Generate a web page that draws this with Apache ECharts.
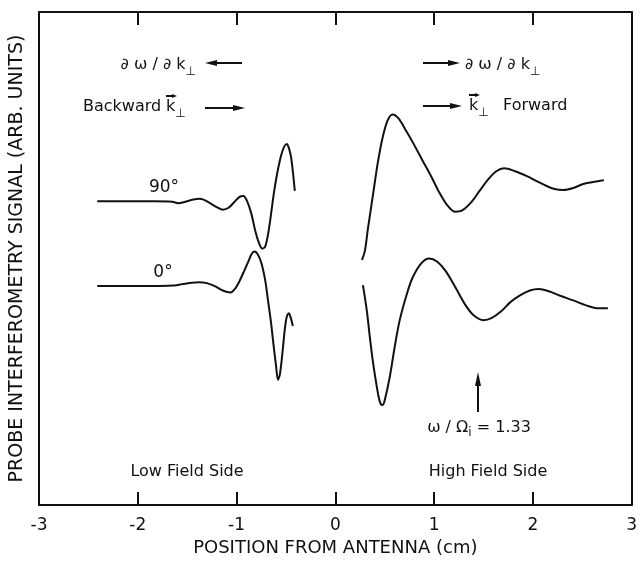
<!DOCTYPE html>
<html>
<head>
<meta charset="utf-8">
<script src="https://cdn.jsdelivr.net/npm/echarts@6/dist/echarts.min.js"></script>
<style>
  html, body { margin: 0; padding: 0; background: #fff; }
  #chart { width: 640px; height: 562px; }
</style>
</head>
<body>
<div id="chart"></div>
<script>
  // x: position from antenna (cm), y: signal (arb. units, 0-100)
  const xTicks = [-3, -2, -1, 0, 1, 2, 3]
  const low90 = [
    [-2.41, 61.6], [-2.14, 61.6], [-1.84, 61.6], [-1.65, 61.5], [-1.59, 61.2], [-1.52, 61.5],
    [-1.45, 61.9], [-1.37, 62.1], [-1.29, 61.5], [-1.21, 60.5], [-1.14, 59.9], [-1.08, 60.3],
    [-1.02, 61.5], [-0.97, 62.5], [-0.93, 62.7], [-0.89, 61.5], [-0.85, 59.1], [-0.81, 55.6],
    [-0.77, 53.0], [-0.74, 52.0], [-0.71, 52.4], [-0.68, 55.0], [-0.65, 59.1], [-0.62, 63.5],
    [-0.59, 67.1], [-0.55, 70.8], [-0.52, 72.6], [-0.49, 73.2], [-0.47, 72.4], [-0.45, 70.8],
    [-0.43, 67.7], [-0.41, 63.7]
  ]
  const low0 = [
    [-2.41, 44.4], [-2.14, 44.4], [-1.84, 44.4], [-1.65, 44.5], [-1.55, 44.8], [-1.45, 45.1],
    [-1.38, 45.2], [-1.30, 45.0], [-1.22, 44.4], [-1.14, 43.5], [-1.06, 43.1], [-1.01, 44.0],
    [-0.97, 45.4], [-0.92, 47.6], [-0.88, 49.4], [-0.85, 50.8], [-0.82, 51.4], [-0.79, 51.0],
    [-0.75, 49.2], [-0.71, 45.6], [-0.68, 41.3], [-0.65, 36.9], [-0.63, 33.3], [-0.60, 28.2],
    [-0.58, 25.4], [-0.56, 26.6], [-0.53, 31.9], [-0.51, 35.9], [-0.49, 38.3], [-0.47, 38.9],
    [-0.45, 37.9], [-0.43, 36.3]
  ]
  const high90 = [
    [0.27, 49.7], [0.30, 51.6], [0.33, 56.0], [0.38, 62.7], [0.43, 69.4], [0.48, 74.6],
    [0.53, 78.0], [0.58, 79.2], [0.64, 78.4], [0.72, 75.8], [0.80, 73.0], [0.88, 70.0],
    [0.97, 66.7], [1.05, 63.5], [1.13, 60.9], [1.21, 59.5], [1.28, 59.7], [1.38, 61.5],
    [1.46, 63.7], [1.55, 66.1], [1.63, 67.7], [1.71, 68.3], [1.82, 67.7], [1.94, 66.7],
    [2.04, 65.7], [2.14, 64.7], [2.22, 64.1], [2.31, 63.9], [2.41, 64.3], [2.51, 65.1],
    [2.61, 65.5], [2.72, 65.9]
  ]
  const high0 = [
    [0.28, 44.6], [0.32, 39.3], [0.35, 34.0], [0.38, 29.2], [0.42, 24.0], [0.44, 21.8],
    [0.46, 20.5], [0.48, 20.3], [0.50, 21.2], [0.55, 25.8], [0.60, 31.9], [0.65, 37.3],
    [0.72, 42.5], [0.78, 46.0], [0.87, 49.0], [0.95, 50.0], [1.03, 49.4], [1.12, 47.4],
    [1.22, 44.0], [1.32, 40.5], [1.40, 38.5], [1.50, 37.5], [1.58, 37.9], [1.68, 39.3],
    [1.77, 41.1], [1.87, 42.5], [1.97, 43.5], [2.06, 43.8], [2.17, 43.3], [2.27, 42.5],
    [2.41, 41.5], [2.54, 40.5], [2.66, 39.9], [2.76, 39.9]
  ]

  const FONT = 'DejaVu Sans'
  const chart = echarts.init(document.getElementById('chart'))

  // 箭头：线段 + 三角形头，头在 (x2, y2)
  function arrow (x1, y1, x2, y2, head, hw) {
    head = head || 12
    hw = hw || 3
    const len = Math.hypot(x2 - x1, y2 - y1)
    const ux = (x2 - x1) / len
    const uy = (y2 - y1) / len
    const bx = x2 - ux * head
    const by = y2 - uy * head
    return [
      { type: 'line', shape: { x1: x1, y1: y1, x2: bx, y2: by }, style: { stroke: '#111', lineWidth: 2 } },
      { type: 'polygon', shape: { points: [[x2, y2], [bx - uy * hw, by + ux * hw], [bx + uy * hw, by - ux * hw]] }, style: { fill: '#111' } }
    ]
  }

  function text (str, x, y, size, align, rich) {
    return {
      type: 'text',
      style: {
        text: str, x: x, y: y, fill: '#111',
        fontFamily: FONT, fontSize: size || 16,
        align: align || 'left', verticalAlign: 'middle',
        rich: rich
      }
    }
  }

  const sub = { s: { fontSize: 12, fontFamily: FONT, padding: [14, 0, 0, 0] } }

  const graphics = [].concat(
    text('∂ ω / ∂ k{s|⊥}', 196, 65, 16, 'right', sub),
    arrow(242, 63, 205, 63),
    text('Backward', 83, 107, 16, 'left'),
    text('k{s|⊥}', 166, 107, 16, 'left', sub),
    arrow(166, 96, 177, 96, 5, 2),
    arrow(205, 108, 245, 108),
    arrow(423, 63, 460, 63),
    text('∂ ω / ∂ k{s|⊥}', 465, 65, 16, 'left', sub),
    arrow(423, 106, 462, 106),
    text('k{s|⊥}', 469, 106, 16, 'left', sub),
    arrow(469, 95, 480, 95, 5, 2),
    text('Forward', 503, 106, 16, 'left'),
    text('90°', 164, 188, 17, 'center'),
    text('0°', 163, 273, 17, 'center'),
    arrow(478, 412, 478, 372, 14, 3),
    text('ω / Ω{i|i} = 1.33', 479, 428, 16, 'center', { i: { fontSize: 12, fontFamily: FONT, padding: [10, 0, 0, 0] } }),
    text('Low Field Side', 187, 472, 16, 'center'),
    text('High Field Side', 488, 472, 16, 'center')
  )

  function lineSeries (data) {
    return {
      type: 'line',
      data: data,
      showSymbol: false,
      smooth: 0.3,
      lineStyle: { color: '#111', width: 2 },
      silent: true
    }
  }

  const frameLine = { show: true, onZero: false, lineStyle: { color: '#111', width: 2 } }
  const frameTick = { inside: true, length: 13, lineStyle: { color: '#111', width: 2 } }

  chart.setOption({
    animation: false,
    backgroundColor: '#fff',
    grid: { left: 34, right: 4, top: 12, bottom: 54 },
    xAxis: [{
      type: 'value',
      min: -3,
      max: 3,
      interval: 1,
      position: 'bottom',
      name: 'POSITION FROM ANTENNA (cm)',
      nameLocation: 'middle',
      nameGap: 34,
      nameTextStyle: { fontFamily: FONT, fontSize: 18, color: '#111' },
      axisLine: frameLine,
      axisTick: frameTick,
      axisLabel: { margin: 12, fontFamily: FONT, fontSize: 17, color: '#111', formatter: v => xTicks.includes(v) ? String(v) : '' },
      splitLine: { show: false }
    }, {
      type: 'value',
      min: -3,
      max: 3,
      interval: 1,
      position: 'top',
      axisLine: frameLine,
      axisTick: frameTick,
      axisLabel: { show: false },
      splitLine: { show: false }
    }],
    yAxis: [{
      type: 'value',
      min: 0,
      max: 100,
      position: 'left',
      name: 'PROBE INTERFEROMETRY SIGNAL (ARB. UNITS)',
      nameLocation: 'middle',
      nameGap: 12,
      nameTextStyle: { fontFamily: FONT, fontSize: 19, color: '#111' },
      axisLine: frameLine,
      axisTick: { show: false },
      axisLabel: { show: false },
      splitLine: { show: false }
    }, {
      type: 'value',
      min: 0,
      max: 100,
      position: 'right',
      axisLine: frameLine,
      axisTick: { show: false },
      axisLabel: { show: false },
      splitLine: { show: false }
    }],
    series: [lineSeries(low90), lineSeries(low0), lineSeries(high90), lineSeries(high0)],
    graphic: graphics
  })
</script>
</body>
</html>
